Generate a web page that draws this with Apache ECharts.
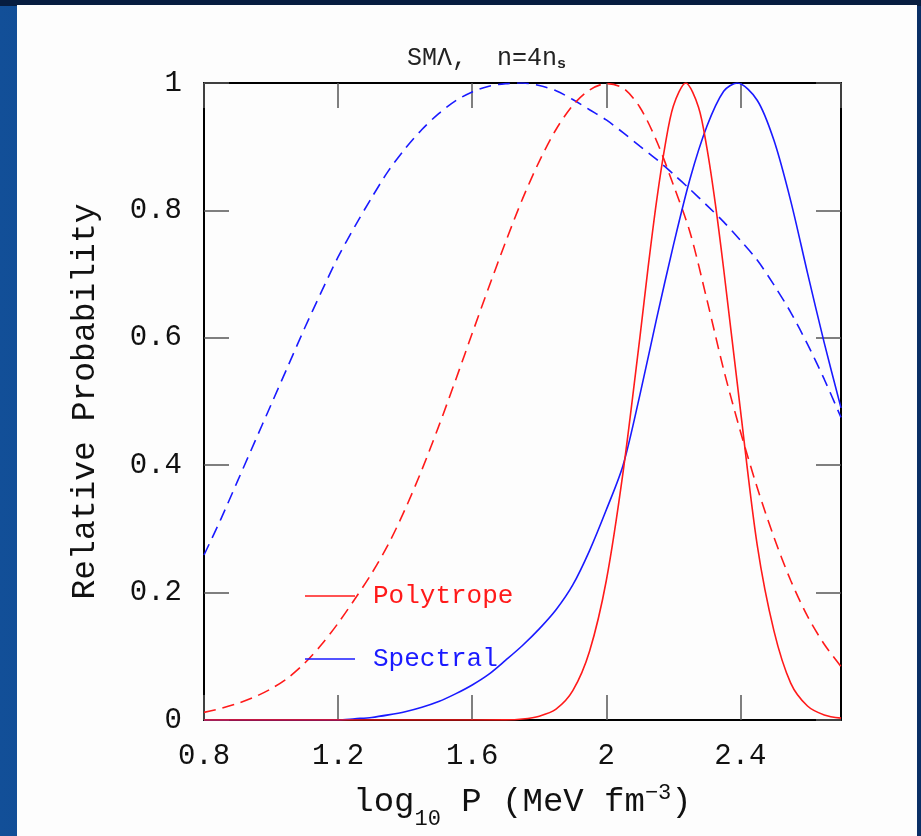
<!DOCTYPE html>
<html>
<head>
<meta charset="utf-8">
<script src="https://cdn.jsdelivr.net/npm/echarts@6/dist/echarts.min.js"></script>
<style>
html,body{margin:0;padding:0;background:#0b3f82;}
#chart{width:921px;height:836px;}
</style>
</head>
<body>
<div id="chart"></div>
<script>
// log10 P grid (MeV fm^-3) for the broad curves
var logP = [0.80,0.85,0.90,0.95,1.00,1.05,1.10,1.15,1.20,1.25,1.30,1.35,1.40,1.45,1.50,1.55,1.60,1.65,1.70,1.75,
            1.80,1.85,1.90,1.95,2.00,2.05,2.10,2.15,2.20,2.25,2.30,2.35,2.40,2.45,2.50,2.55,2.60,2.65,2.70];

// Polytrope prior (dashed red)
var polyDashed = [0.012,0.018,0.026,0.036,0.049,0.066,0.089,0.118,0.152,0.190,0.230,0.276,0.331,0.393,0.461,0.533,0.607,0.680,0.751,0.818,
                  0.877,0.927,0.965,0.989,0.999,0.992,0.962,0.909,0.840,0.765,0.660,0.550,0.453,0.365,0.287,0.219,0.163,0.119,0.084];
// Spectral prior (dashed blue)
var specDashed = [0.259,0.315,0.375,0.435,0.495,0.555,0.615,0.672,0.727,0.775,0.820,0.862,0.897,0.927,0.952,0.972,0.986,0.995,0.999,1.000,
                  0.996,0.988,0.974,0.958,0.942,0.922,0.901,0.880,0.857,0.833,0.808,0.782,0.753,0.722,0.683,0.640,0.590,0.535,0.475];

// Polytrope posterior (solid red), finer sampling around its narrow peak
var polySolidX = [0.80,1.20,1.50,1.70,1.75,1.80,1.85,1.90,1.95,2.00,2.05,2.10,2.125,2.15,2.175,2.20,2.237,2.275,2.30,2.325,2.35,2.40,2.45,2.50,2.55,2.60,2.65,2.70];
var polySolid  = [0,0,0,0.0002,0.0016,0.006,0.017,0.046,0.108,0.219,0.389,0.600,0.712,0.815,0.901,0.964,1.000,0.962,0.898,0.811,0.708,0.487,0.275,0.140,0.058,0.022,0.008,0.003];

// Spectral posterior (solid blue)
var specSolidX = [0.80,1.00,1.20,1.25,1.30,1.35,1.40,1.45,1.50,1.55,1.60,1.65,1.70,1.75,1.80,1.85,1.90,1.95,2.00,2.05,2.10,2.15,2.20,2.25,2.30,2.35,2.39,2.45,2.50,2.55,2.60,2.65,2.70];
var specSolid  = [0,0,0,0.002,0.004,0.008,0.013,0.020,0.029,0.041,0.055,0.072,0.094,0.117,0.143,0.173,0.212,0.266,0.330,0.400,0.510,0.630,0.745,0.850,0.932,0.987,1.000,0.973,0.910,0.815,0.702,0.592,0.490];

var xTicks = [0.8,1.2,1.6,2.0,2.4];
var yTicks = [0,0.2,0.4,0.6,0.8,1];

function pairs(xs, ys){ return xs.map(function(x,i){ return [x, ys[i]]; }); }

var mono = '"Liberation Mono", "DejaVu Sans Mono", monospace';
var RED = '#ff1a1a', BLUE = '#1a1aff';

var chart = echarts.init(document.getElementById('chart'), null, {renderer:'canvas'});
function tickStyle(){ return {show:true, inside:true, length:25, lineStyle:{color:'#555', width:1.5}}; }
function axisLineStyle(){ return {show:true, onZero:false, lineStyle:{color:'#000', width:2}}; }

chart.setOption({
  animation:false,
  backgroundColor:{type:'linear', x:0, y:0, x2:1, y2:0, colorStops:[{offset:0,color:'#124f98'},{offset:1,color:'#0a2f66'}]},
  graphic:[
    {type:'rect', z:-10, shape:{x:0,y:0,width:921,height:6}, style:{fill:'#071d40'}},
    {type:'rect', z:-9, shape:{x:17,y:5,width:900,height:831}, style:{fill:'#fdfdfd'}}
  ],
  title:{
    text:'SMΛ,  n=4n{s|s}',
    left:402, top:40,
    textStyle:{fontFamily:mono, fontSize:25, fontWeight:'normal', color:'#222',
      rich:{s:{fontFamily:mono, fontSize:15, fontWeight:'bold', color:'#222', verticalAlign:'bottom', padding:[12,0,0,0]}}}
  },
  grid:{left:204, right:80, top:83, bottom:116},
  legend:{
    orient:'vertical', left:300, top:576, itemGap:33,
    icon:'rect', itemWidth:50, itemHeight:1.5,
    textStyle:{fontFamily:mono, fontSize:26, lineHeight:30, padding:[0,0,0,13]},
    data:[{name:'Polytrope', textStyle:{color:RED}}, {name:'Spectral', textStyle:{color:BLUE}}]
  },
  xAxis:[
    {type:'value', position:'bottom', min:0.8, max:2.7, interval:0.4,
     axisLine:axisLineStyle(), axisTick:tickStyle(), splitLine:{show:false},
     axisLabel:{showMaxLabel:false, margin:22, fontFamily:mono, fontSize:29, color:'#111'},
     name:'{a|log}{b|10}{a| P (MeV fm}{c|−3}{a|)}', nameLocation:'middle', nameGap:62,
     nameTextStyle:{rich:{
       a:{fontFamily:mono, fontSize:34, color:'#111', lineHeight:40, verticalAlign:'middle'},
       b:{fontFamily:mono, fontSize:22, color:'#111', lineHeight:16, verticalAlign:'bottom', padding:[0,0,-8,0]},
       c:{fontFamily:mono, fontSize:22, color:'#111', lineHeight:16, verticalAlign:'top'}
     }}},
    {type:'value', position:'top', min:0.8, max:2.7, interval:0.4,
     axisLine:axisLineStyle(), axisTick:tickStyle(), axisLabel:{show:false}, splitLine:{show:false}}
  ],
  yAxis:[
    {type:'value', position:'left', min:0, max:1, interval:0.2,
     axisLine:axisLineStyle(), axisTick:tickStyle(), splitLine:{show:false},
     axisLabel:{margin:22, fontFamily:mono, fontSize:29, color:'#111'},
     name:'Relative Probability', nameLocation:'middle', nameGap:102, nameRotate:90,
     nameTextStyle:{fontFamily:mono, fontSize:33, color:'#111'}},
    {type:'value', position:'right', min:0, max:1, interval:0.2,
     axisLine:axisLineStyle(), axisTick:tickStyle(), axisLabel:{show:false}, splitLine:{show:false}}
  ],
  series:[
    {name:'Spectral prior', type:'line', data:pairs(logP, specDashed), smooth:0.3, showSymbol:false, symbol:'none',
     color:BLUE, lineStyle:{color:BLUE, width:1.6, type:[12,7]}},
    {name:'Polytrope prior', type:'line', data:pairs(logP, polyDashed), smooth:0.3, showSymbol:false, symbol:'none',
     color:RED, lineStyle:{color:RED, width:1.6, type:[12,7]}},
    {name:'Spectral', type:'line', data:pairs(specSolidX, specSolid), smooth:0.3, showSymbol:false, symbol:'none',
     color:BLUE, lineStyle:{color:BLUE, width:1.6}},
    {name:'Polytrope', type:'line', data:pairs(polySolidX, polySolid), smooth:0.3, showSymbol:false, symbol:'none',
     color:RED, lineStyle:{color:RED, width:1.6}}
  ]
});
</script>
</body>
</html>
